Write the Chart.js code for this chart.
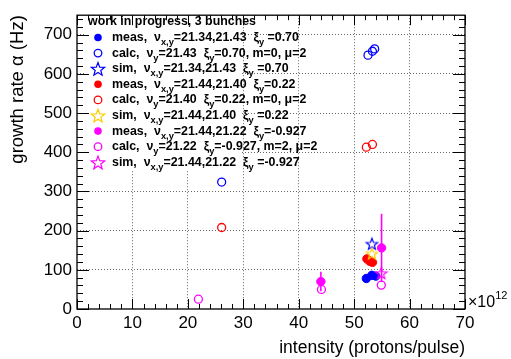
<!DOCTYPE html>
<html>
<head>
<meta charset="utf-8">
<script src="https://cdn.jsdelivr.net/npm/chart.js@4/dist/chart.umd.min.js"></script>
<style>
  html, body { margin: 0; padding: 0; background: #fff; }
  #c { display: block; }
</style>
</head>
<body>
<canvas id="c" width="511" height="359"></canvas>
<script>
// values: intensity in 1e12 protons/pulse, growth rate in Hz
const measBlueX = [52.2, 53.2, 53.9];
const measBlueY = [78, 86, 84];
const calcBlueX = [26.1, 52.5, 53.3, 53.7];
const calcBlueY = [324, 648, 658, 664];
const simBlueX = [53.2];
const simBlueY = [167];

const measRedX = [52.3, 52.8, 53.3];
const measRedY = [128, 122, 119];
const calcRedX = [26.1, 52.2, 53.3];
const calcRedY = [208, 413, 420];
const simYellowX = [53.2];
const simYellowY = [142];

const measMagX = [44.0, 54.95];
const measMagY = [70, 156];
const measMagErr = [25, 87];
const calcMagX = [21.9, 44.1, 54.9];
const calcMagY = [25, 50, 61];
const simMagX = [54.9];
const simMagY = [92];

const xTickValues = [0, 10, 20, 30, 40, 50, 60, 70];
const yTickValues = [0, 100, 200, 300, 400, 500, 600, 700];

const legendHeader = 'work in progress, 3 bunches';
const legendLabels = [
  'meas,  ν_{x,y}=21.34,21.43  ξ_{y} =0.70',
  'calc,  ν_{y}=21.43  ξ_{y}=0.70, m=0, μ=2',
  'sim,  ν_{x,y}=21.34,21.43  ξ_{y} =0.70',
  'meas,  ν_{x,y}=21.44,21.40  ξ_{y}=0.22',
  'calc,  ν_{y}=21.40  ξ_{y}=0.22, m=0, μ=2',
  'sim,  ν_{x,y}=21.44,21.40  ξ_{y} =0.22',
  'meas,  ν_{x,y}=21.44,21.22  ξ_{y}=-0.927',
  'calc,  ν_{y}=21.22  ξ_{y}=-0.927, m=2, μ=2',
  'sim,  ν_{x,y}=21.44,21.22  ξ_{y} =-0.927'
];

const FONT = '"Liberation Sans", Arial, Helvetica, sans-serif';
const BLUE = '#0000ff', RED = '#ff0000', YELLOW = '#ffcc00', MAG = '#ff00ff';

function pts(xs, ys) {
  return xs.map((x, i) => ({ x: x, y: ys[i] }));
}

function starPath(ctx, cx, cy, r) {
  ctx.beginPath();
  for (let i = 0; i < 10; i++) {
    const rr = i % 2 === 0 ? r : r * 0.42;
    const a = -Math.PI / 2 + i * Math.PI / 5;
    const px = cx + rr * Math.cos(a), py = cy + rr * Math.sin(a);
    if (i === 0) ctx.moveTo(px, py); else ctx.lineTo(px, py);
  }
  ctx.closePath();
}

function makeStar(color, r) {
  const cv = document.createElement('canvas');
  const s = Math.ceil(r * 2 + 4);
  cv.width = s; cv.height = s;
  const c = cv.getContext('2d');
  c.strokeStyle = color;
  c.lineWidth = 1.2;
  starPath(c, s / 2, s / 2 + 0.8, r);
  c.stroke();
  return cv;
}

function filled(label, xs, ys, color) {
  return { label, data: pts(xs, ys), pointStyle: 'circle', pointRadius: 4.2,
    backgroundColor: color, borderColor: color, borderWidth: 1, kind: 'filled' };
}
function open(label, xs, ys, color) {
  return { label, data: pts(xs, ys), pointStyle: 'circle', pointRadius: 4,
    backgroundColor: 'rgba(0,0,0,0)', borderColor: color, borderWidth: 1.3, kind: 'open' };
}
function star(label, xs, ys, color) {
  return { label, data: pts(xs, ys), pointStyle: makeStar(color, 6), pointRadius: 6,
    backgroundColor: color, borderColor: color, kind: 'star' };
}

const datasets = [
  filled('meas blue', measBlueX, measBlueY, BLUE),
  open('calc blue', calcBlueX, calcBlueY, BLUE),
  star('sim blue', simBlueX, simBlueY, BLUE),
  filled('meas red', measRedX, measRedY, RED),
  open('calc red', calcRedX, calcRedY, RED),
  star('sim yellow', simYellowX, simYellowY, YELLOW),
  filled('meas magenta', measMagX, measMagY, MAG),
  open('calc magenta', calcMagX, calcMagY, MAG),
  star('sim magenta', simMagX, simMagY, MAG)
];
// later series on top, like the original
datasets.forEach((d, i) => { d.order = -i; });

// error bars on the magenta measurements
const errorBars = {
  id: 'errorBars',
  beforeDatasetsDraw(chart) {
    const { ctx, scales: { x, y } } = chart;
    ctx.save();
    ctx.strokeStyle = MAG;
    ctx.lineWidth = 1.6;
    measMagX.forEach((v, i) => {
      const px = x.getPixelForValue(v);
      ctx.beginPath();
      ctx.moveTo(px, y.getPixelForValue(measMagY[i] - measMagErr[i]));
      ctx.lineTo(px, y.getPixelForValue(measMagY[i] + measMagErr[i]));
      ctx.stroke();
    });
    ctx.restore();
  }
};

// ROOT style frame with inward ticks on all four sides
const frameTicks = {
  id: 'frameTicks',
  beforeDatasetsDraw(chart) {
    const { ctx, chartArea: a, scales: { x, y } } = chart;
    ctx.save();
    ctx.strokeStyle = '#000';
    ctx.lineWidth = 1;
    ctx.beginPath();
    for (let v = 0; v <= 70; v += 2) {
      const px = Math.round(x.getPixelForValue(v)) + 0.5;
      const len = v % 10 === 0 ? 10 : 5;
      ctx.moveTo(px, a.bottom); ctx.lineTo(px, a.bottom - len);
      ctx.moveTo(px, a.top); ctx.lineTo(px, a.top + len);
    }
    for (let v = 0; v <= 740; v += 20) {
      const py = Math.round(y.getPixelForValue(v)) + 0.5;
      const len = v % 100 === 0 ? 12 : 6;
      ctx.moveTo(a.left, py); ctx.lineTo(a.left + len, py);
      ctx.moveTo(a.right, py); ctx.lineTo(a.right - len, py);
    }
    ctx.stroke();
    ctx.lineWidth = 1.3;
    ctx.strokeRect(a.left, a.top, a.right - a.left, a.bottom - a.top);
    // axis exponent
    ctx.fillStyle = '#000';
    ctx.textBaseline = 'alphabetic';
    ctx.font = '16px ' + FONT;
    ctx.fillText('×10', a.right + 3, a.bottom - 2);
    const w = ctx.measureText('×10').width;
    ctx.font = '11px ' + FONT;
    ctx.fillText('12', a.right + 3 + w, a.bottom - 10);
    ctx.restore();
  }
};

function drawRich(ctx, str, x, y, size) {
  str.split(/(_\{[^}]*\})/).forEach(p => {
    if (!p) return;
    if (p.startsWith('_{')) {
      const t = p.slice(2, -1);
      ctx.font = 'bold ' + (size * 0.75).toFixed(1) + 'px ' + FONT;
      ctx.fillText(t, x, y + size * 0.4);
      x += ctx.measureText(t).width;
    } else {
      ctx.font = 'bold ' + size + 'px ' + FONT;
      ctx.fillText(p, x, y);
      x += ctx.measureText(p).width;
    }
  });
}

const legendBox = {
  id: 'legendBox',
  beforeDatasetsDraw(chart) {
    // legend fill hides the grid behind its left part
    const ctx = chart.ctx;
    ctx.save();
    ctx.fillStyle = '#fff';
    ctx.fillRect(84, 14, 156, 156);
    ctx.restore();
  },
  afterDraw(chart) {
    const ctx = chart.ctx;
    ctx.save();
    ctx.fillStyle = '#000';
    ctx.textBaseline = 'middle';
    ctx.font = 'bold 12.4px ' + FONT;
    ctx.fillText(legendHeader, 88, 22);
    legendLabels.forEach((txt, i) => {
      const ly = 37.5 + i * 15.6;
      const d = datasets[i];
      ctx.strokeStyle = d.borderColor;
      ctx.fillStyle = d.borderColor;
      ctx.lineWidth = 1.3;
      if (d.kind === 'filled') {
        ctx.beginPath(); ctx.arc(98, ly, 3.8, 0, Math.PI * 2); ctx.fill();
      } else if (d.kind === 'open') {
        ctx.beginPath(); ctx.arc(98, ly, 3.8, 0, Math.PI * 2); ctx.stroke();
      } else {
        ctx.lineWidth = 1.2;
        starPath(ctx, 98, ly + 0.8, 7); ctx.stroke();
      }
      ctx.fillStyle = '#000';
      drawRich(ctx, txt, 112, ly, 12.4);
    });
    ctx.restore();
  }
};

const gridColor = (max) => (c) =>
  (c.tick && (c.tick.value === 0 || c.tick.value === max)) ? 'rgba(0,0,0,0)' : 'rgba(0,0,0,0.6)';

new Chart(document.getElementById('c'), {
  type: 'scatter',
  data: { datasets },
  options: {
    responsive: false,
    animation: false,
    layout: { padding: { left: 0, right: 46, top: 13, bottom: 0 } },
    plugins: { legend: { display: false }, tooltip: { enabled: false } },
    scales: {
      x: {
        type: 'linear', min: 0, max: 70,
        afterBuildTicks: s => { s.ticks = xTickValues.map(v => ({ value: v })); },
        afterFit: s => { s.height = 50; },
        grid: { drawTicks: false, color: gridColor(70), lineWidth: 1 },
        border: { display: false, dash: [1, 2] },
        ticks: { color: '#000', font: { family: FONT, size: 17 }, padding: 4, maxRotation: 0, autoSkip: false },
        title: { display: true, text: 'intensity (protons/pulse)', align: 'end', color: '#000',
          font: { family: FONT, size: 17.5 }, padding: { top: 0, bottom: 0 } }
      },
      y: {
        type: 'linear', min: 0, max: 750,
        afterBuildTicks: s => { s.ticks = yTickValues.map(v => ({ value: v })); },
        afterFit: s => { s.width = 77; },
        grid: { drawTicks: false, color: gridColor(750), lineWidth: 1 },
        border: { display: false, dash: [1, 2] },
        ticks: { color: '#000', font: { family: FONT, size: 17 }, padding: 5, autoSkip: false },
        title: { display: true, text: 'growth rate α (Hz)', align: 'end', color: '#000',
          font: { family: FONT, size: 18.5 }, padding: { top: 7, bottom: 0 } }
      }
    }
  },
  plugins: [errorBars, legendBox, frameTicks]
});
</script>
</body>
</html>
